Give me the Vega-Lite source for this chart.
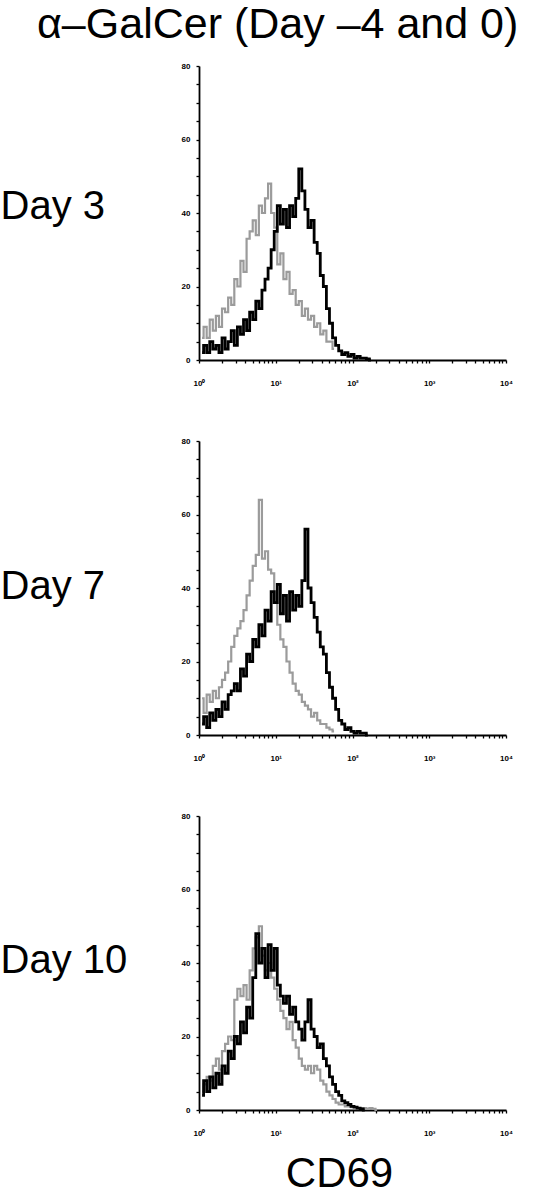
{
  "$schema": "https://vega.github.io/schema/vega-lite/v6.json",
  "padding": {"left": 0, "top": 4, "right": 0, "bottom": 0},
  "background": "white",
  "title": {"text": "α–GalCer (Day –4 and 0)", "font": "Liberation Sans", "fontSize": 43, "fontWeight": "normal", "color": "#000", "anchor": "start", "dx": 37, "offset": 15},
  "config": {
    "view": {"stroke": null},
    "axis": {"grid": false, "domainColor": "#000", "domainWidth": 1.8, "tickColor": "#000", "tickWidth": 1.3, "tickSize": 3, "labelFont": "Liberation Sans", "labelFontSize": 8, "labelFontWeight": "bold", "labelColor": "#000", "titleFont": "Liberation Sans", "titleFontWeight": "normal", "titleColor": "#000"}
  },
  "data": {"values": [
    {"day":"Day 3","cd69":1.096,"g":6,"b":2},{"day":"Day 3","cd69":1.202,"g":9,"b":4},{"day":"Day 3","cd69":1.318,"g":6,"b":2},{"day":"Day 3","cd69":1.445,"g":11,"b":5},{"day":"Day 3","cd69":1.585,"g":8,"b":3},{"day":"Day 3","cd69":1.738,"g":12,"b":4},{"day":"Day 3","cd69":1.905,"g":9,"b":2},{"day":"Day 3","cd69":2.089,"g":14,"b":6},{"day":"Day 3","cd69":2.291,"g":13,"b":3},{"day":"Day 3","cd69":2.512,"g":17,"b":5},{"day":"Day 3","cd69":2.754,"g":15,"b":8},{"day":"Day 3","cd69":3.020,"g":22,"b":4},{"day":"Day 3","cd69":3.311,"g":20,"b":9},{"day":"Day 3","cd69":3.631,"g":27,"b":7},{"day":"Day 3","cd69":3.981,"g":24,"b":11},{"day":"Day 3","cd69":4.365,"g":33,"b":8},{"day":"Day 3","cd69":4.786,"g":35,"b":13},{"day":"Day 3","cd69":5.248,"g":38,"b":11},{"day":"Day 3","cd69":5.754,"g":34,"b":16},{"day":"Day 3","cd69":6.310,"g":42,"b":14},{"day":"Day 3","cd69":6.918,"g":40,"b":19},{"day":"Day 3","cd69":7.586,"g":44,"b":22},{"day":"Day 3","cd69":8.318,"g":48,"b":25},{"day":"Day 3","cd69":9.120,"g":40,"b":30},{"day":"Day 3","cd69":10.0,"g":36,"b":35},{"day":"Day 3","cd69":10.96,"g":26,"b":42},{"day":"Day 3","cd69":12.02,"g":29,"b":37},{"day":"Day 3","cd69":13.18,"g":22,"b":41},{"day":"Day 3","cd69":14.45,"g":24,"b":36},{"day":"Day 3","cd69":15.85,"g":18,"b":42},{"day":"Day 3","cd69":17.38,"g":19,"b":39},{"day":"Day 3","cd69":19.05,"g":15,"b":44},{"day":"Day 3","cd69":20.89,"g":16,"b":52},{"day":"Day 3","cd69":22.91,"g":12,"b":46},{"day":"Day 3","cd69":25.12,"g":14,"b":41},{"day":"Day 3","cd69":27.54,"g":11,"b":36},{"day":"Day 3","cd69":30.20,"g":12,"b":38},{"day":"Day 3","cd69":33.11,"g":9,"b":32},{"day":"Day 3","cd69":36.31,"g":10,"b":29},{"day":"Day 3","cd69":39.81,"g":7,"b":23},{"day":"Day 3","cd69":43.65,"g":8,"b":20},{"day":"Day 3","cd69":47.86,"g":5,"b":14},{"day":"Day 3","cd69":52.48,"g":5,"b":10},{"day":"Day 3","cd69":57.54,"g":3,"b":6},{"day":"Day 3","cd69":63.10,"g":null,"b":4},{"day":"Day 3","cd69":69.18,"g":null,"b":2.5},{"day":"Day 3","cd69":75.86,"g":null,"b":1.5},{"day":"Day 3","cd69":83.18,"g":null,"b":2},{"day":"Day 3","cd69":91.20,"g":null,"b":1},{"day":"Day 3","cd69":100,"g":null,"b":1.5},{"day":"Day 3","cd69":109.6,"g":null,"b":0.5},{"day":"Day 3","cd69":120.2,"g":null,"b":1},{"day":"Day 3","cd69":131.8,"g":null,"b":0.5},{"day":"Day 3","cd69":144.5,"g":null,"b":0.5},{"day":"Day 3","cd69":158.5,"g":null,"b":0.3},{"day":"Day 3","cd69":173.8,"g":null,"b":0},
    {"day":"Day 7","cd69":1.096,"g":10,"b":3},{"day":"Day 7","cd69":1.202,"g":6,"b":5},{"day":"Day 7","cd69":1.318,"g":11,"b":2},{"day":"Day 7","cd69":1.445,"g":9,"b":6},{"day":"Day 7","cd69":1.585,"g":12,"b":4},{"day":"Day 7","cd69":1.738,"g":10,"b":7},{"day":"Day 7","cd69":1.905,"g":13,"b":5},{"day":"Day 7","cd69":2.089,"g":15,"b":9},{"day":"Day 7","cd69":2.291,"g":17,"b":7},{"day":"Day 7","cd69":2.512,"g":20,"b":11},{"day":"Day 7","cd69":2.754,"g":24,"b":12},{"day":"Day 7","cd69":3.020,"g":27,"b":14},{"day":"Day 7","cd69":3.311,"g":29,"b":12},{"day":"Day 7","cd69":3.631,"g":31,"b":18},{"day":"Day 7","cd69":3.981,"g":34,"b":16},{"day":"Day 7","cd69":4.365,"g":38,"b":22},{"day":"Day 7","cd69":4.786,"g":42,"b":20},{"day":"Day 7","cd69":5.248,"g":46,"b":26},{"day":"Day 7","cd69":5.754,"g":49,"b":24},{"day":"Day 7","cd69":6.310,"g":64,"b":30},{"day":"Day 7","cd69":6.918,"g":48,"b":27},{"day":"Day 7","cd69":7.586,"g":50,"b":34},{"day":"Day 7","cd69":8.318,"g":45,"b":31},{"day":"Day 7","cd69":9.120,"g":44,"b":39},{"day":"Day 7","cd69":10.0,"g":36,"b":36},{"day":"Day 7","cd69":10.96,"g":30,"b":41},{"day":"Day 7","cd69":12.02,"g":26,"b":33},{"day":"Day 7","cd69":13.18,"g":24,"b":38},{"day":"Day 7","cd69":14.45,"g":20,"b":31},{"day":"Day 7","cd69":15.85,"g":17,"b":39},{"day":"Day 7","cd69":17.38,"g":14,"b":34},{"day":"Day 7","cd69":19.05,"g":12,"b":38},{"day":"Day 7","cd69":20.89,"g":11,"b":35},{"day":"Day 7","cd69":22.91,"g":9,"b":42},{"day":"Day 7","cd69":25.12,"g":8,"b":56},{"day":"Day 7","cd69":27.54,"g":7,"b":40},{"day":"Day 7","cd69":30.20,"g":5,"b":36},{"day":"Day 7","cd69":33.11,"g":6,"b":32},{"day":"Day 7","cd69":36.31,"g":4,"b":28},{"day":"Day 7","cd69":39.81,"g":3,"b":24},{"day":"Day 7","cd69":43.65,"g":3,"b":22},{"day":"Day 7","cd69":47.86,"g":2,"b":17},{"day":"Day 7","cd69":52.48,"g":1.5,"b":13},{"day":"Day 7","cd69":57.54,"g":1,"b":10},{"day":"Day 7","cd69":63.10,"g":null,"b":7},{"day":"Day 7","cd69":69.18,"g":null,"b":4},{"day":"Day 7","cd69":75.86,"g":null,"b":3},{"day":"Day 7","cd69":83.18,"g":null,"b":1.5},{"day":"Day 7","cd69":91.20,"g":null,"b":2},{"day":"Day 7","cd69":100,"g":null,"b":1},{"day":"Day 7","cd69":109.6,"g":null,"b":0.5},{"day":"Day 7","cd69":120.2,"g":null,"b":1},{"day":"Day 7","cd69":131.8,"g":null,"b":0.5},{"day":"Day 7","cd69":144.5,"g":null,"b":0.5},{"day":"Day 7","cd69":158.5,"g":null,"b":0},
    {"day":"Day 10","cd69":1.096,"g":5,"b":4},{"day":"Day 10","cd69":1.202,"g":7,"b":8},{"day":"Day 10","cd69":1.318,"g":9,"b":5},{"day":"Day 10","cd69":1.445,"g":8,"b":9},{"day":"Day 10","cd69":1.585,"g":12,"b":6},{"day":"Day 10","cd69":1.738,"g":14,"b":10},{"day":"Day 10","cd69":1.905,"g":11,"b":7},{"day":"Day 10","cd69":2.089,"g":16,"b":12},{"day":"Day 10","cd69":2.291,"g":18,"b":10},{"day":"Day 10","cd69":2.512,"g":20,"b":16},{"day":"Day 10","cd69":2.754,"g":19,"b":14},{"day":"Day 10","cd69":3.020,"g":30,"b":20},{"day":"Day 10","cd69":3.311,"g":33,"b":18},{"day":"Day 10","cd69":3.631,"g":31,"b":24},{"day":"Day 10","cd69":3.981,"g":34,"b":21},{"day":"Day 10","cd69":4.365,"g":30,"b":28},{"day":"Day 10","cd69":4.786,"g":38,"b":25},{"day":"Day 10","cd69":5.248,"g":44,"b":36},{"day":"Day 10","cd69":5.754,"g":47,"b":48},{"day":"Day 10","cd69":6.310,"g":50,"b":40},{"day":"Day 10","cd69":6.918,"g":42,"b":44},{"day":"Day 10","cd69":7.586,"g":38,"b":36},{"day":"Day 10","cd69":8.318,"g":40,"b":45},{"day":"Day 10","cd69":9.120,"g":36,"b":38},{"day":"Day 10","cd69":10.0,"g":33,"b":44},{"day":"Day 10","cd69":10.96,"g":30,"b":34},{"day":"Day 10","cd69":12.02,"g":27,"b":31},{"day":"Day 10","cd69":13.18,"g":25,"b":29},{"day":"Day 10","cd69":14.45,"g":22,"b":31},{"day":"Day 10","cd69":15.85,"g":24,"b":26},{"day":"Day 10","cd69":17.38,"g":19,"b":28},{"day":"Day 10","cd69":19.05,"g":17,"b":24},{"day":"Day 10","cd69":20.89,"g":14,"b":22},{"day":"Day 10","cd69":22.91,"g":12,"b":19},{"day":"Day 10","cd69":25.12,"g":11,"b":24},{"day":"Day 10","cd69":27.54,"g":12,"b":30},{"day":"Day 10","cd69":30.20,"g":10,"b":22},{"day":"Day 10","cd69":33.11,"g":12,"b":20},{"day":"Day 10","cd69":36.31,"g":11,"b":17},{"day":"Day 10","cd69":39.81,"g":8,"b":18},{"day":"Day 10","cd69":43.65,"g":7,"b":14},{"day":"Day 10","cd69":47.86,"g":5,"b":12},{"day":"Day 10","cd69":52.48,"g":4,"b":9},{"day":"Day 10","cd69":57.54,"g":3,"b":7},{"day":"Day 10","cd69":63.10,"g":2,"b":5},{"day":"Day 10","cd69":69.18,"g":1.5,"b":4},{"day":"Day 10","cd69":75.86,"g":1.5,"b":2.5},{"day":"Day 10","cd69":83.18,"g":1,"b":2},{"day":"Day 10","cd69":91.20,"g":1,"b":1.5},{"day":"Day 10","cd69":100,"g":0.8,"b":1},{"day":"Day 10","cd69":109.6,"g":0.8,"b":0.8},{"day":"Day 10","cd69":120.2,"g":0.5,"b":0.5},{"day":"Day 10","cd69":131.8,"g":0.5,"b":0.3},{"day":"Day 10","cd69":144.5,"g":0.5,"b":0},{"day":"Day 10","cd69":158.5,"g":0.3,"b":null},{"day":"Day 10","cd69":173.8,"g":0.5,"b":null},{"day":"Day 10","cd69":190.5,"g":0.3,"b":null},{"day":"Day 10","cd69":208.9,"g":0,"b":null}
  ]},
  "vconcat": [
    {
      "width": 307, "height": 294,
      "transform": [{"filter": "datum.day == 'Day 3'"}, {"fold": ["g", "b"], "as": ["series", "count"]}, {"filter": "datum.count != null"}],
      "encoding": {
        "x": {"field": "cd69", "type": "quantitative", "scale": {"type": "log", "domain": [1, 10000], "nice": false},
              "axis": {"title": null, "values": [1,2,3,4,5,6,7,8,9,10,20,30,40,50,60,70,80,90,100,200,300,400,500,600,700,800,900,1000,2000,3000,4000,5000,6000,7000,8000,9000,10000], "labelExpr": "datum.value == 1 ? '10⁰' : datum.value == 10 ? '10¹' : datum.value == 100 ? '10²' : datum.value == 1000 ? '10³' : datum.value == 10000 ? '10⁴' : ''", "labelOverlap": false, "labelFlush": false, "labelPadding": 16}},
        "y": {"field": "count", "type": "quantitative", "scale": {"domain": [0, 80], "nice": false, "zero": true},
              "axis": {"title": "Day 3", "titleAngle": 0, "titleAlign": "left", "titleBaseline": "middle", "titleX": -199, "titleY": 140, "titleFontSize": 40, "values": [0,5,10,15,20,25,30,35,40,45,50,55,60,65,70,75,80], "labelExpr": "datum.value % 20 == 0 ? datum.label : ''", "labelOverlap": false, "labelFlush": false, "labelPadding": 6}}
      },
      "layer": [
        {"transform": [{"filter": "datum.series == 'g'"}], "mark": {"type": "line", "interpolate": "step", "color": "#9b9b9b", "strokeWidth": 2.2}},
        {"transform": [{"filter": "datum.series == 'b'"}], "mark": {"type": "line", "interpolate": "step", "color": "#000000", "strokeWidth": 2.8}}
      ]
    },
    {
      "width": 307, "height": 294,
      "transform": [{"filter": "datum.day == 'Day 7'"}, {"fold": ["g", "b"], "as": ["series", "count"]}, {"filter": "datum.count != null"}],
      "encoding": {
        "x": {"field": "cd69", "type": "quantitative", "scale": {"type": "log", "domain": [1, 10000], "nice": false},
              "axis": {"title": null, "values": [1,2,3,4,5,6,7,8,9,10,20,30,40,50,60,70,80,90,100,200,300,400,500,600,700,800,900,1000,2000,3000,4000,5000,6000,7000,8000,9000,10000], "labelExpr": "datum.value == 1 ? '10⁰' : datum.value == 10 ? '10¹' : datum.value == 100 ? '10²' : datum.value == 1000 ? '10³' : datum.value == 10000 ? '10⁴' : ''", "labelOverlap": false, "labelFlush": false, "labelPadding": 16}},
        "y": {"field": "count", "type": "quantitative", "scale": {"domain": [0, 80], "nice": false, "zero": true},
              "axis": {"title": "Day 7", "titleAngle": 0, "titleAlign": "left", "titleBaseline": "middle", "titleX": -199, "titleY": 145, "titleFontSize": 40, "values": [0,5,10,15,20,25,30,35,40,45,50,55,60,65,70,75,80], "labelExpr": "datum.value % 20 == 0 ? datum.label : ''", "labelOverlap": false, "labelFlush": false, "labelPadding": 6}}
      },
      "layer": [
        {"transform": [{"filter": "datum.series == 'g'"}], "mark": {"type": "line", "interpolate": "step", "color": "#9b9b9b", "strokeWidth": 2.2}},
        {"transform": [{"filter": "datum.series == 'b'"}], "mark": {"type": "line", "interpolate": "step", "color": "#000000", "strokeWidth": 2.8}}
      ]
    },
    {
      "width": 307, "height": 294,
      "transform": [{"filter": "datum.day == 'Day 10'"}, {"fold": ["g", "b"], "as": ["series", "count"]}, {"filter": "datum.count != null"}],
      "encoding": {
        "x": {"field": "cd69", "type": "quantitative", "scale": {"type": "log", "domain": [1, 10000], "nice": false},
              "axis": {"title": "CD69", "titleFontSize": 42, "titleX": 140, "titleAlign": "center", "titlePadding": 16, "values": [1,2,3,4,5,6,7,8,9,10,20,30,40,50,60,70,80,90,100,200,300,400,500,600,700,800,900,1000,2000,3000,4000,5000,6000,7000,8000,9000,10000], "labelExpr": "datum.value == 1 ? '10⁰' : datum.value == 10 ? '10¹' : datum.value == 100 ? '10²' : datum.value == 1000 ? '10³' : datum.value == 10000 ? '10⁴' : ''", "labelOverlap": false, "labelFlush": false, "labelPadding": 16}},
        "y": {"field": "count", "type": "quantitative", "scale": {"domain": [0, 80], "nice": false, "zero": true},
              "axis": {"title": "Day 10", "titleAngle": 0, "titleAlign": "left", "titleBaseline": "middle", "titleX": -199, "titleY": 144, "titleFontSize": 40, "values": [0,5,10,15,20,25,30,35,40,45,50,55,60,65,70,75,80], "labelExpr": "datum.value % 20 == 0 ? datum.label : ''", "labelOverlap": false, "labelFlush": false, "labelPadding": 6}}
      },
      "layer": [
        {"transform": [{"filter": "datum.series == 'g'"}], "mark": {"type": "line", "interpolate": "step", "color": "#9b9b9b", "strokeWidth": 2.2}},
        {"transform": [{"filter": "datum.series == 'b'"}], "mark": {"type": "line", "interpolate": "step", "color": "#000000", "strokeWidth": 2.8}}
      ]
    }
  ],
  "bounds": "flush",
  "spacing": 81
}
